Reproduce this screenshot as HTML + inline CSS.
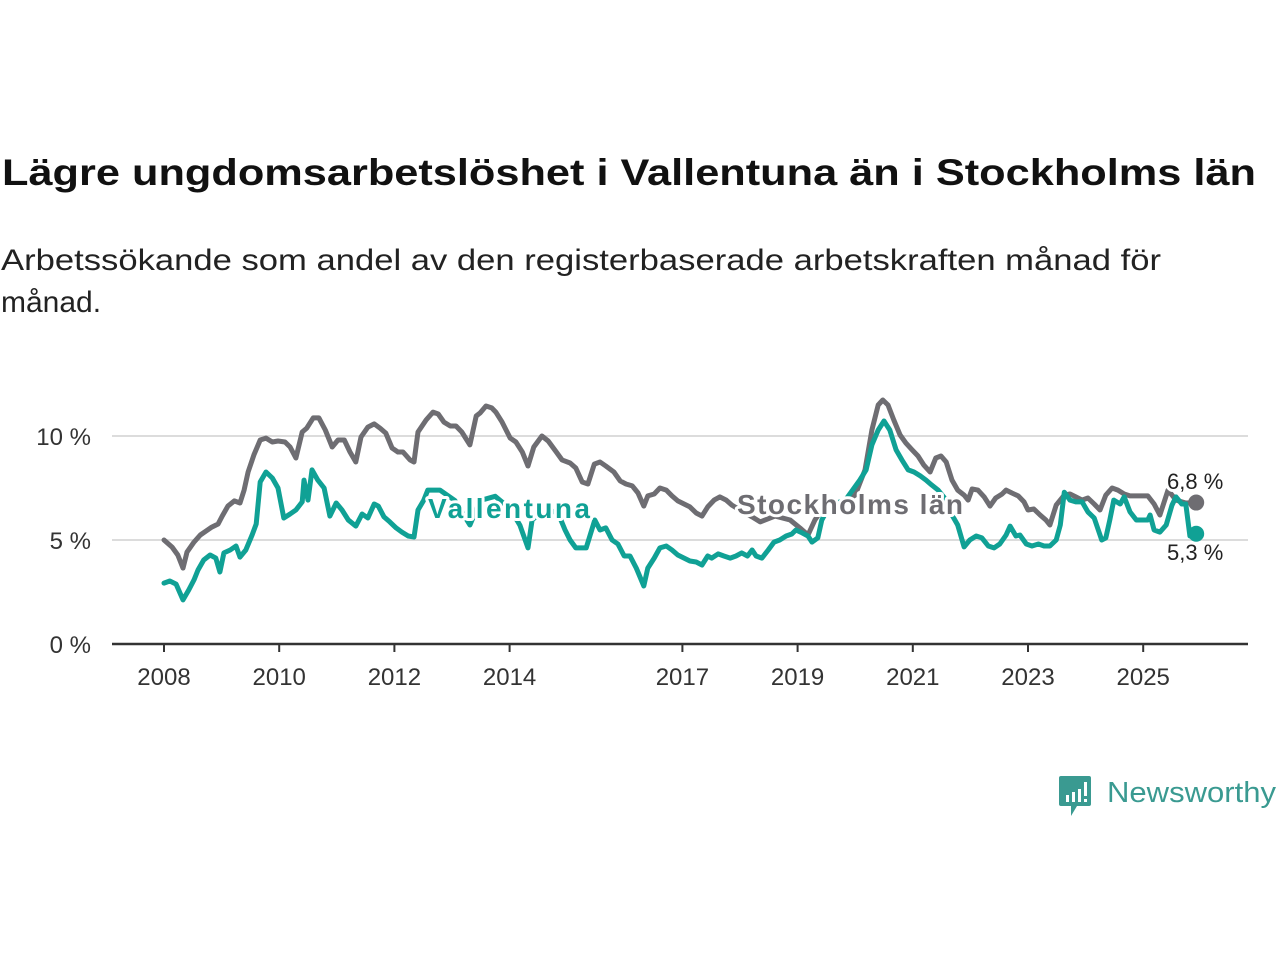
<!DOCTYPE html>
<html><head><meta charset="utf-8"><style>
html,body{margin:0;padding:0;background:#fff;width:1280px;height:960px;overflow:hidden;font-family:"Liberation Sans",sans-serif;}
</style></head><body>
<svg id="chart" width="1280" height="960" xmlns="http://www.w3.org/2000/svg" font-family="Liberation Sans, sans-serif">
<text x="2" y="185" font-size="37" font-weight="bold" fill="#111" textLength="1254" lengthAdjust="spacingAndGlyphs">Lägre ungdomsarbetslöshet i Vallentuna än i Stockholms län</text>
<text x="1" y="270" font-size="30" fill="#222" textLength="1160" lengthAdjust="spacingAndGlyphs">Arbetssökande som andel av den registerbaserade arbetskraften månad för</text>
<text x="1" y="312" font-size="30" fill="#222">månad.</text>
<g id="grid"></g><g id="xaxis"></g><g id="series"></g><g id="labels"></g>
<g>
<path d="M1061 776 h28 a2 2 0 0 1 2 2 v26 a2 2 0 0 1 -2 2 h-12 l-6 10 v-10 h-10 a2 2 0 0 1 -2 -2 v-26 a2 2 0 0 1 2 -2z" fill="#3a9a91"/>
<rect x="1066" y="795" width="3" height="7" fill="#fff"/><rect x="1072" y="792" width="3" height="10" fill="#fff"/><rect x="1078" y="789" width="3" height="13" fill="#fff"/><rect x="1084" y="782" width="3" height="14" fill="#fff"/><rect x="1084" y="799" width="3" height="3" fill="#fff"/>
<text x="1107" y="802" font-size="29" fill="#3a9a91" textLength="169" lengthAdjust="spacingAndGlyphs">Newsworthy</text>
</g>
</svg>
<script>
const yTicks=[0,5,10];
const yTickLabels=["0 %","5 %","10 %"];
const xTicks=[2008,2010,2012,2014,2017,2019,2021,2023,2025];
const sthlmDates=[2008.00,2008.14,2008.24,2008.33,2008.40,2008.52,2008.63,2008.73,2008.83,2008.94,2009.01,2009.11,2009.22,2009.32,2009.39,2009.46,2009.56,2009.67,2009.77,2009.88,2009.98,2010.10,2010.19,2010.29,2010.40,2010.48,2010.59,2010.69,2010.80,2010.92,2011.02,2011.13,2011.23,2011.33,2011.42,2011.54,2011.65,2011.75,2011.85,2011.96,2012.06,2012.15,2012.27,2012.34,2012.41,2012.55,2012.67,2012.76,2012.86,2012.97,2013.07,2013.17,2013.31,2013.42,2013.49,2013.59,2013.69,2013.76,2013.87,2014.01,2014.11,2014.22,2014.32,2014.42,2014.56,2014.67,2014.81,2014.91,2015.05,2015.15,2015.26,2015.36,2015.47,2015.57,2015.67,2015.81,2015.92,2016.02,2016.13,2016.23,2016.33,2016.40,2016.51,2016.61,2016.72,2016.82,2016.92,2017.03,2017.13,2017.24,2017.34,2017.44,2017.55,2017.65,2017.76,2017.86,2018.00,2018.21,2018.35,2018.61,2018.87,2019.04,2019.18,2019.30,2019.48,2019.74,2020.00,2020.17,2020.29,2020.40,2020.48,2020.57,2020.67,2020.78,2020.88,2020.99,2021.09,2021.19,2021.30,2021.40,2021.49,2021.58,2021.68,2021.78,2021.89,2021.96,2022.03,2022.13,2022.24,2022.34,2022.44,2022.55,2022.62,2022.72,2022.83,2022.93,2023.00,2023.10,2023.21,2023.31,2023.38,2023.49,2023.63,2023.73,2023.83,2023.94,2024.04,2024.15,2024.25,2024.35,2024.46,2024.56,2024.67,2024.77,2024.98,2025.08,2025.19,2025.29,2025.43,2025.57,2025.74,2025.92];
const sthlmValues=[5.0,4.66,4.28,3.65,4.42,4.90,5.24,5.43,5.62,5.77,6.15,6.63,6.88,6.78,7.40,8.27,9.09,9.81,9.90,9.71,9.76,9.71,9.47,8.94,10.19,10.38,10.87,10.87,10.29,9.47,9.81,9.81,9.23,8.75,9.95,10.43,10.58,10.38,10.14,9.42,9.23,9.23,8.85,8.75,10.19,10.77,11.15,11.06,10.67,10.48,10.48,10.19,9.57,10.96,11.11,11.44,11.35,11.15,10.67,9.90,9.71,9.23,8.56,9.47,10.0,9.76,9.23,8.85,8.70,8.46,7.79,7.69,8.65,8.75,8.56,8.27,7.84,7.69,7.60,7.26,6.63,7.12,7.21,7.50,7.40,7.12,6.88,6.73,6.59,6.30,6.15,6.59,6.92,7.07,6.92,6.68,6.44,6.11,5.87,6.15,5.96,5.58,5.24,5.96,6.68,6.68,7.16,8.37,10.29,11.49,11.73,11.49,10.77,10.05,9.66,9.33,9.04,8.61,8.27,8.94,9.04,8.75,7.88,7.40,7.16,6.92,7.45,7.40,7.07,6.63,7.02,7.21,7.40,7.26,7.12,6.83,6.44,6.49,6.20,5.96,5.72,6.68,7.16,7.21,7.07,6.92,7.02,6.73,6.44,7.16,7.50,7.40,7.21,7.12,7.12,7.12,6.73,6.20,7.40,6.92,6.78,6.8];
const vallDates=[2008.00,2008.10,2008.21,2008.33,2008.43,2008.52,2008.59,2008.69,2008.80,2008.90,2008.97,2009.04,2009.15,2009.25,2009.32,2009.42,2009.53,2009.60,2009.67,2009.77,2009.88,2009.98,2010.08,2010.19,2010.29,2010.40,2010.43,2010.50,2010.57,2010.67,2010.78,2010.88,2010.99,2011.09,2011.20,2011.33,2011.44,2011.54,2011.65,2011.72,2011.82,2011.92,2012.03,2012.13,2012.24,2012.34,2012.41,2012.51,2012.58,2012.71,2012.79,2013.05,2013.31,2013.49,2013.75,2014.01,2014.18,2014.32,2014.39,2014.62,2014.84,2014.96,2015.05,2015.15,2015.33,2015.48,2015.57,2015.67,2015.78,2015.88,2015.99,2016.09,2016.20,2016.33,2016.40,2016.51,2016.61,2016.72,2016.82,2016.92,2017.03,2017.13,2017.24,2017.34,2017.44,2017.51,2017.62,2017.72,2017.83,2017.93,2018.03,2018.13,2018.21,2018.28,2018.38,2018.49,2018.59,2018.69,2018.80,2018.90,2018.97,2019.08,2019.18,2019.25,2019.35,2019.42,2019.56,2019.83,2020.08,2020.19,2020.29,2020.40,2020.50,2020.60,2020.71,2020.81,2020.92,2021.02,2021.13,2021.23,2021.33,2021.44,2021.58,2021.68,2021.78,2021.89,2021.99,2022.10,2022.20,2022.31,2022.41,2022.51,2022.62,2022.69,2022.79,2022.86,2022.97,2023.07,2023.18,2023.28,2023.38,2023.49,2023.56,2023.63,2023.73,2023.83,2023.94,2024.04,2024.15,2024.22,2024.28,2024.35,2024.42,2024.49,2024.60,2024.67,2024.77,2024.88,2024.98,2025.08,2025.12,2025.19,2025.29,2025.40,2025.50,2025.57,2025.67,2025.74,2025.81,2025.92];
const vallValues=[2.93,3.03,2.88,2.12,2.60,3.08,3.56,4.04,4.28,4.13,3.46,4.38,4.52,4.71,4.18,4.52,5.24,5.77,7.79,8.27,7.98,7.50,6.06,6.25,6.44,6.83,7.88,6.92,8.37,7.88,7.50,6.15,6.78,6.44,5.96,5.67,6.25,6.06,6.73,6.63,6.11,5.87,5.58,5.38,5.19,5.14,6.44,6.92,7.40,7.40,7.40,6.9,5.72,6.9,7.1,6.5,5.7,4.62,5.96,6.5,6.3,5.5,5.0,4.62,4.62,5.96,5.48,5.58,5.0,4.81,4.23,4.23,3.65,2.79,3.65,4.13,4.62,4.71,4.52,4.28,4.13,3.99,3.94,3.80,4.23,4.13,4.33,4.23,4.13,4.23,4.38,4.23,4.52,4.23,4.13,4.52,4.90,5.0,5.19,5.29,5.48,5.34,5.19,4.90,5.10,5.96,6.68,6.92,7.88,8.37,9.57,10.29,10.72,10.29,9.33,8.85,8.37,8.27,8.08,7.88,7.64,7.40,6.92,6.20,5.72,4.67,5.0,5.19,5.10,4.71,4.62,4.81,5.24,5.67,5.19,5.24,4.81,4.71,4.81,4.71,4.71,5.0,5.72,7.30,6.92,6.83,6.83,6.35,6.06,5.48,5.0,5.10,5.96,6.92,6.73,7.07,6.35,5.96,5.96,5.96,6.20,5.48,5.38,5.72,6.68,7.07,6.73,6.73,5.19,5.3];
const lastLabels=["6,8 %","5,3 %"];
const NS="http://www.w3.org/2000/svg";
const X=d=>164+(d-2008)*57.6;
const Y=v=>644-v*20.8;
function mk(tag,attrs,parent){const e=document.createElementNS(NS,tag);for(const k in attrs)e.setAttribute(k,attrs[k]);parent.appendChild(e);return e;}
const grid=document.getElementById('grid'),xa=document.getElementById('xaxis'),ser=document.getElementById('series'),lab=document.getElementById('labels');
yTicks.forEach((t,i)=>{
  if(t>0){const l=mk('line',{x1:112,x2:1248,y1:Y(t),y2:Y(t),stroke:'#dcdcdc','stroke-width':2},grid);
  
  }
  const tx=mk('text',{x:91,y:Y(t)+9,'text-anchor':'end','font-size':24,fill:'#333'},grid);tx.textContent=yTickLabels[i];
  
  
});
const ax=mk('line',{x1:112,x2:1248,y1:644,y2:644,stroke:'#333','stroke-width':2.5},xa);


xTicks.forEach(t=>{
  mk('line',{x1:X(t),x2:X(t),y1:644,y2:652,stroke:'#333','stroke-width':2},xa);
  const tx=mk('text',{x:X(t),y:685,'text-anchor':'middle','font-size':24,fill:'#333'},xa);tx.textContent=t;
  
  
});
function line(dates,vals,color,name){
  const d=dates.map((t,i)=>(i?'L':'M')+X(t).toFixed(1)+' '+Y(vals[i]).toFixed(1)).join('');
  const p=mk('path',{d:d,fill:'none',stroke:color,'stroke-width':5,'stroke-linejoin':'round','stroke-linecap':'round'},ser);
  
  
  const n=dates.length-1;
  const c=mk('circle',{cx:X(dates[n]),cy:Y(vals[n]),r:8,fill:color},ser);
  
  
}
line(sthlmDates,sthlmValues,'#6e6d72','stockholm-line');
line(vallDates,vallValues,'#10a195','vallentuna-line');
function label(x,y,txt,color,size,weight,name){
  const t=mk('text',{x:x,y:y,'font-size':size,'font-weight':weight,fill:color,stroke:'#fff','stroke-width':6,'paint-order':'stroke','stroke-linejoin':'round'},lab);t.textContent=txt;
  
  
  return t;
}
label(428,518,'Vallentuna','#10a195',28,'bold','vallentuna-label').setAttribute('textLength','162');
label(737,514,'Stockholms län','#6e6d72',28,'bold','stockholm-label').setAttribute('textLength','226');
label(1167,489,lastLabels[0],'#222',22,'normal','stockholm-last-value');
label(1167,560,lastLabels[1],'#222',22,'normal','vallentuna-last-value');
</script>
</body></html>
